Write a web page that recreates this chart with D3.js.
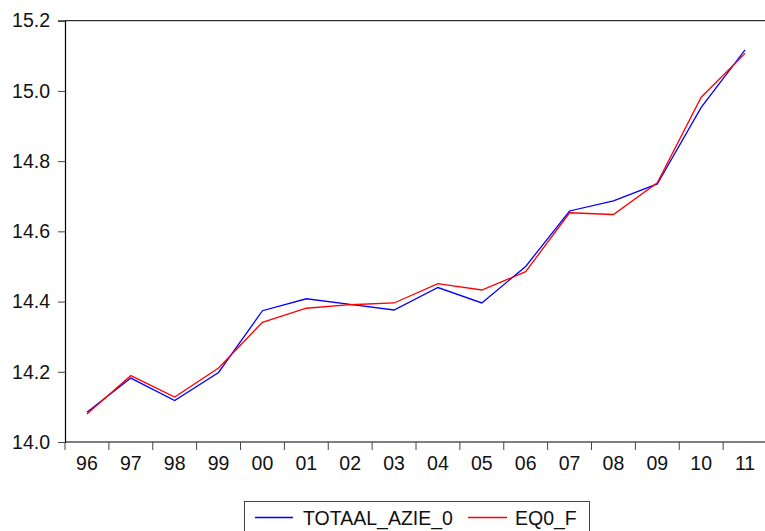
<!DOCTYPE html>
<html>
<head>
<meta charset="utf-8">
<script src="https://cdn.jsdelivr.net/npm/d3@7"></script>
<style>
  html, body { margin: 0; padding: 0; background: #fff; }
  svg { display: block; font-family: Arial, "Liberation Sans", sans-serif; }
</style>
</head>
<body>
<svg id="chart" width="765" height="531"></svg>
<script>
// Years (two-digit labels) on the category axis
const years = ["96","97","98","99","00","01","02","03","04","05","06","07","08","09","10","11"];
// Actual series
const totaalAzie = [14.085, 14.182, 14.118, 14.198, 14.374, 14.408, 14.392, 14.376, 14.440, 14.396, 14.500, 14.658, 14.687, 14.735, 14.953, 15.117];
// Fitted series
const eq0F = [14.080, 14.189, 14.128, 14.211, 14.341, 14.381, 14.391, 14.396, 14.451, 14.433, 14.485, 14.653, 14.648, 14.738, 14.982, 15.107];
const yTicks = [14.0, 14.2, 14.4, 14.6, 14.8, 15.0, 15.2];
const seriesNames = ["TOTAAL_AZIE_0", "EQ0_F"];
const seriesColors = ["#0000ff", "#ff0000"];

const FONT = 19.5;
const svg = d3.select("#chart");
const plotLeft = 65, plotTop = 20.7, plotBottom = 442, plotRight = 767;

const x = d3.scaleBand().domain(years).range([plotLeft, plotRight]).padding(0);
const y = d3.scaleLinear().domain([14.0, 15.2]).range([plotBottom, plotTop]);

// Frame: top border and left/bottom axes
svg.append("line").attr("x1", plotLeft).attr("x2", plotRight).attr("y1", plotTop).attr("y2", plotTop)
  .attr("stroke", "#000").attr("stroke-width", 1);

const yAxis = svg.append("g").attr("transform", `translate(${plotLeft},0)`)
  .call(d3.axisLeft(y).tickValues(yTicks).tickFormat(d3.format(".1f")).tickSize(7).tickPadding(8));
yAxis.select(".domain").attr("stroke", "#000").attr("stroke-width", 1.2);
yAxis.selectAll(".tick line").attr("stroke", "#444");
yAxis.selectAll(".tick text").attr("font-size", FONT).attr("fill", "#111")
  .attr("font-family", "Arial, 'Liberation Sans', sans-serif");

// Category axis: ticks sit on band boundaries, labels at band centres
const xg = svg.append("g").attr("transform", `translate(0,${plotBottom})`);
xg.append("line").attr("x1", plotLeft).attr("x2", plotRight).attr("y1", 0).attr("y2", 0)
  .attr("stroke", "#000").attr("stroke-width", 1.2);
xg.selectAll("line.tk").data(years).join("line").attr("class", "tk")
  .attr("x1", d => x(d)).attr("x2", d => x(d)).attr("y1", 0).attr("y2", 8)
  .attr("stroke", "#444");
xg.selectAll("text").data(years).join("text")
  .attr("x", d => x(d) + x.bandwidth() / 2).attr("y", 28)
  .attr("text-anchor", "middle").attr("font-size", FONT).attr("fill", "#111")
  .text(d => d);

// Series lines
const line = d3.line().x((d, i) => x(years[i]) + x.bandwidth() / 2).y(d => y(d));
[totaalAzie, eq0F].forEach((vals, k) => {
  svg.append("path").datum(vals).attr("d", line)
    .attr("fill", "none").attr("stroke", seriesColors[k]).attr("stroke-width", 1.3)
    .attr("stroke-linejoin", "miter");
});

// Legend
const lg = svg.append("g");
lg.append("rect").attr("x", 244.5).attr("y", 501.5).attr("width", 345).attr("height", 40)
  .attr("fill", "#fff").attr("stroke", "#444").attr("stroke-width", 1);
const legendItems = [{x1: 255, x2: 293, tx: 303}, {x1: 468, x2: 507, tx: 515}];
legendItems.forEach((it, k) => {
  lg.append("line").attr("x1", it.x1).attr("x2", it.x2).attr("y1", 517.5).attr("y2", 517.5)
    .attr("stroke", seriesColors[k]).attr("stroke-width", 1.3);
  lg.append("text").attr("x", it.tx).attr("y", 524.5).attr("font-size", FONT).attr("fill", "#111")
    .text(seriesNames[k]);
});
</script>
</body>
</html>
